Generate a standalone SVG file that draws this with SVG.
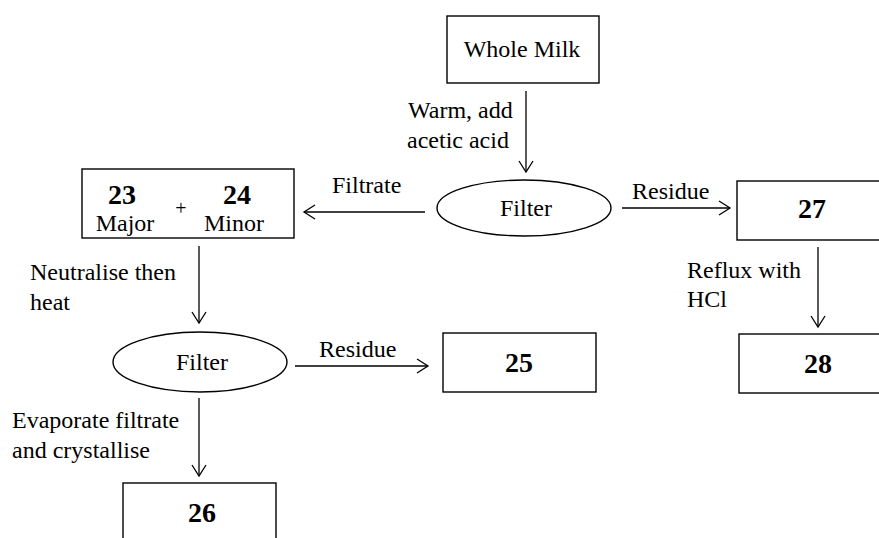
<svg xmlns="http://www.w3.org/2000/svg" width="879" height="538" viewBox="0 0 879 538" font-family="'Liberation Serif', 'Times New Roman', serif">
<defs>
<marker id="arr" markerUnits="userSpaceOnUse" markerWidth="20" markerHeight="20" refX="12" refY="8" orient="auto" viewBox="0 0 20 20">
<path d="M1,1 L12,8 L1,15" fill="none" stroke="#000" stroke-width="1.3"/>
</marker>
</defs>
<style>
.n{fill:#fff;stroke:#000;stroke-width:1.4}
.c line{stroke:#000;stroke-width:1.3;marker-end:url(#arr)}
text{font-family:'Liberation Serif','Times New Roman',serif;font-size:24px;fill:#000}
.b{font-weight:bold;font-size:28px}
.m{text-anchor:middle}
</style>
<rect width="879" height="538" fill="#fff"/>
<g class="c" id="connectors">
<line x1="526" y1="91" x2="526" y2="172"/>
<line x1="425" y1="212" x2="304" y2="212"/>
<line x1="622" y1="208" x2="730" y2="208"/>
<line x1="818" y1="247" x2="818" y2="327"/>
<line x1="199" y1="246" x2="199" y2="323"/>
<line x1="295" y1="366" x2="428" y2="366"/>
<line x1="199" y1="398" x2="199" y2="476"/>
</g>
<g id="labels">
<text x="408" y="118">Warm, add</text>
<text x="407" y="148">acetic acid</text>
<text x="332" y="193">Filtrate</text>
<text x="632" y="199">Residue</text>
<text x="687" y="278">Reflux with</text>
<text x="687" y="307">HCl</text>
<text x="30" y="280">Neutralise then</text>
<text x="30" y="310">heat</text>
<text x="319" y="357">Residue</text>
<text x="12" y="428">Evaporate filtrate</text>
<text x="12" y="458">and crystallise</text>
</g>
<g id="whole-milk">
<rect class="n" x="447" y="16" width="152" height="67"/>
<text class="m" x="522" y="57">Whole Milk</text>
</g>
<g id="filter1">
<ellipse class="n" cx="524" cy="208" rx="87" ry="28"/>
<text class="m" x="526" y="216">Filter</text>
</g>
<g id="box-23-24">
<rect class="n" x="82" y="169" width="212" height="69"/>
<text class="b m" x="122" y="204">23</text>
<text class="m" x="125" y="231">Major</text>
<text class="m" x="181" y="215" style="font-size:20px">+</text>
<text class="b m" x="237" y="204">24</text>
<text class="m" x="234" y="231">Minor</text>
</g>
<g id="box-27">
<rect class="n" x="737" y="181" width="160" height="59"/>
<text class="b m" x="812" y="218">27</text>
</g>
<g id="box-28">
<rect class="n" x="739" y="334" width="160" height="59"/>
<text class="b m" x="818" y="373">28</text>
</g>
<g id="filter2">
<ellipse class="n" cx="200" cy="362" rx="87" ry="30"/>
<text class="m" x="202" y="370">Filter</text>
</g>
<g id="box-25">
<rect class="n" x="443" y="333" width="153" height="59"/>
<text class="b m" x="519" y="372">25</text>
</g>
<g id="box-26">
<rect class="n" x="123" y="483" width="153" height="70"/>
<text class="b m" x="202" y="522">26</text>
</g>
</svg>
